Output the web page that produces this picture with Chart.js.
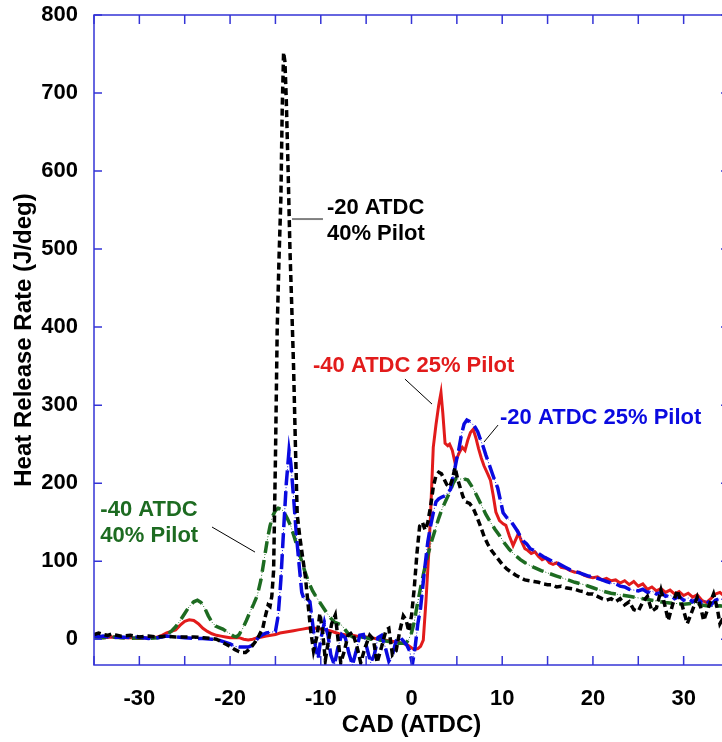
<!DOCTYPE html>
<html>
<head>
<meta charset="utf-8">
<script src="https://cdn.jsdelivr.net/npm/chart.js@4.4.1/dist/chart.umd.min.js"></script>
<style>
  html, body { margin: 0; padding: 0; background: #fff; overflow: hidden; }
  canvas { display: block; }
</style>
</head>
<body>
<canvas id="hrr" width="730" height="742" style="width:730px;height:742px"></canvas>
<script>
Chart.defaults.font.family = "'Liberation Sans', Arial, Helvetica, sans-serif";

// [CAD, heat release rate] pairs for each injection case
const hrrEarly25 = [ // -40 ATDC, 25% pilot
  [-35,3],[-34,2],[-33,3],[-32,2],[-31,2],[-30,1],[-29,2],[-28,3],[-27.5,5],[-27,8],[-26.5,10],[-26,12],
  [-25.5,18],[-25,23],[-24.5,25],[-24,24],[-23.5,20],[-23,14],[-22.5,10],[-22,7],[-21.5,5],[-21,4],[-20.5,3],
  [-20,2],[-19,2],[-18.5,0],[-18,-1],[-17.5,0],[-17,2],[-16.5,3],[-16,4],[-15.5,5],[-15,6],[-14.5,8],[-14,9],
  [-13.5,10],[-13,11],[-12.5,12],[-12,13],[-11.5,14],[-11,14],[-10.5,14],[-10,13],[-9.5,12],[-9,11],[-8.5,9],
  [-8,7],[-7.5,6],[-7,5],[-6.5,5],[-6,4],[-5.5,4],[-5,3],[-4.5,2],[-4,1],[-3.5,0],[-3,-1],[-2.5,-2],[-2,-3],
  [-1.5,-4],[-1,-5],[-0.5,-7],[0,-11],[0.3,-13],[0.7,-12],[1,-9],[1.3,-1],[1.6,50],[1.9,110],[2.1,160],
  [2.4,246],[2.7,275],[3.0,300],[3.25,316],[3.45,290],[3.7,251],[4.0,248],[4.2,250],[4.5,242],[4.8,226],
  [5.0,232],[5.3,240],[5.6,246],[5.9,242],[6.2,255],[6.5,265],[6.8,269],[7.1,258],[7.4,244],[7.7,232],
  [8.0,222],[8.4,212],[8.7,204],[9.0,185],[9.3,163],[9.7,152],[10.1,148],[10.4,146],[10.8,132],[11.2,120],
  [11.5,128],[11.8,136],[12.1,126],[12.5,116],[12.8,114],[13.2,110],[13.6,112],[14.0,106],[14.4,102],
  [14.8,104],[15.2,98],[15.6,96],[16.0,98],[16.5,92],[17.0,91],[17.5,88],[18.0,86],[18.5,86],[19.0,82],
  [19.5,80],[20.0,79],[20.5,80],[21.0,76],[21.5,78],[22.0,75],[22.5,76],[23.0,72],[23.5,75],[24.0,70],
  [24.5,74],[25.0,68],[25.5,71],[26.0,64],[26.5,67],[27.0,62],[27.5,65],[28.0,60],[28.5,63],[29.0,58],
  [29.5,61],[30.0,56],[30.5,59],[31.0,54],[31.5,57],[32.0,50],[32.5,47],[33.0,52],[33.5,58],[34.0,60],
  [34.5,55],[35,52]
];

const hrrLate25 = [ // -20 ATDC, 25% pilot
  [-35,5],[-34.5,3],[-34,4],[-33,2],[-32,3],[-31,2],[-30,3],[-29,1],[-28,2],[-27,4],[-26,3],[-25,2],
  [-24,1],[-23,1],[-22,0],[-21.5,0],[-21,-2],[-20.5,-4],[-20,-6],[-19.5,-9],[-19,-10],[-18.5,-10],[-18,-10],
  [-17.6,-8],[-17.2,-2],[-16.8,3],[-16.4,6],[-16,8],[-15.5,9],[-15,10],[-14.7,30],[-14.4,76],[-14.1,140],
  [-13.8,200],[-13.5,242],[-13.3,225],[-13,182],[-12.7,135],[-12.4,97],[-12.1,60],[-11.8,50],[-11.5,52],
  [-11.2,48],[-10.9,20],[-10.6,-8],[-10.3,-25],[-10.0,0],[-9.6,22],[-9.2,5],[-8.9,-20],[-8.5,-33],
  [-8.1,-10],[-7.7,6],[-7.3,2],[-6.9,-18],[-6.5,-33],[-6.1,-15],[-5.7,5],[-5.3,6],[-4.9,-12],[-4.5,-30],
  [-4.1,-20],[-3.7,2],[-3.3,5],[-2.9,-10],[-2.5,-28],[-2.1,-20],[-1.7,-2],[-1.3,3],[-0.9,-2],[-0.5,-8],
  [-0.2,-15],[0.1,-32],[0.4,-10],[0.7,20],[1,40],[1.4,85],[1.8,125],[2.1,145],[2.4,162],[2.7,176],[3.0,180],
  [3.3,182],[3.7,184],[4.0,188],[4.3,192],[4.6,210],[4.8,220],[5.0,232],[5.2,242],[5.5,262],[5.8,276],
  [6.1,281],[6.4,279],[6.7,276],[7.0,272],[7.3,266],[7.6,256],[7.9,247],[8.2,236],[8.5,226],[8.8,216],
  [9.1,206],[9.5,194],[9.8,178],[10.1,162],[10.5,156],[10.9,152],[11.2,147],[11.6,140],[12.0,132],
  [12.3,126],[12.7,122],[13.1,116],[13.5,114],[14.0,110],[14.5,106],[15.0,103],[15.5,100],[16.0,98],
  [16.5,95],[17.0,92],[17.5,89],[18.0,87],[18.5,85],[19.0,83],[19.5,81],[20.0,80],[20.5,78],[21.0,76],
  [21.5,74],[22.0,72],[22.5,71],[23.0,68],[23.5,67],[24.0,64],[24.5,63],[25.0,62],[25.5,64],[26.0,60],
  [26.5,62],[27.0,58],[27.5,60],[28.0,55],[28.5,57],[29.0,52],[29.5,55],[30.0,50],[30.5,53],[31.0,48],
  [31.5,52],[32.0,47],[32.5,50],[33.0,44],[33.5,50],[34.0,52],[34.5,50],[35,48]
];

const hrrLate40 = [ // -20 ATDC, 40% pilot
  [-35,6],[-34.5,8],[-34,6],[-33.5,5],[-33,7],[-32.5,5],[-32,4],[-31,5],[-30,3],[-29,4],[-28,3],[-27,4],
  [-26,3],[-25,3],[-24,3],[-23,2],[-22,1],[-21.5,0],[-21,-3],[-20.5,-6],[-20,-9],[-19.5,-13],[-19,-16],
  [-18.7,-17],[-18.3,-17],[-18,-14],[-17.6,-9],[-17.2,-3],[-16.8,5],[-16.4,14],[-16.1,30],[-15.8,44],
  [-15.6,42],[-15.4,55],[-15.2,88],[-15.0,230],[-14.8,400],[-14.6,490],[-14.4,565],[-14.25,680],[-14.1,752],
  [-13.95,740],[-13.8,690],[-13.6,600],[-13.4,500],[-13.2,426],[-13.0,349],[-12.8,250],[-12.6,160],
  [-12.3,130],[-12.0,105],[-11.7,80],[-11.4,45],[-11.1,10],[-10.8,-15],[-10.4,5],[-10.1,33],[-9.8,10],
  [-9.5,-27],[-9.2,-5],[-8.8,20],[-8.4,31],[-8.1,0],[-7.8,-30],[-7.4,-15],[-7.0,5],[-6.5,9],[-6.0,-10],
  [-5.6,-30],[-5.1,-10],[-4.6,5],[-4.2,0],[-3.8,-30],[-3.3,-10],[-2.8,12],[-2.5,14],[-2.1,-20],[-1.7,-15],
  [-1.3,10],[-0.9,30],[-0.6,25],[-0.3,10],[0.0,30],[0.3,65],[0.6,110],[0.9,145],[1.2,150],[1.5,140],
  [1.8,150],[2.1,170],[2.4,195],[2.7,210],[3.0,214],[3.3,212],[3.6,205],[3.9,198],[4.2,195],[4.5,205],
  [4.8,220],[5.1,205],[5.4,193],[5.7,182],[6.0,176],[6.4,174],[6.8,168],[7.2,157],[7.6,145],[8.0,132],
  [8.4,122],[8.8,114],[9.2,108],[9.6,102],[10.0,96],[10.5,90],[11.0,86],[11.5,82],[12.0,79],[12.5,76],
  [13.0,75],[13.5,74],[14.0,73],[14.5,71],[15.0,70],[15.5,70],[16.0,67],[16.5,68],[17.0,66],[17.5,65],
  [18.0,64],[18.5,62],[19.0,61],[19.5,58],[20.0,58],[20.5,55],[21.0,52],[21.5,50],[22.0,52],[22.5,48],
  [23.0,52],[23.5,44],[24.0,48],[24.5,38],[25.0,36],[25.5,48],[26.0,55],[26.5,36],[27.0,40],[27.5,63],
  [28.0,40],[28.3,24],[28.8,45],[29.3,63],[29.8,45],[30.4,20],[30.9,35],[31.5,54],[31.9,40],[32.2,24],
  [32.7,40],[33.3,58],[33.7,40],[34.0,20],[34.5,30],[35,45]
];

const hrrEarly40 = [ // -40 ATDC, 40% pilot
  [-35,3],[-34,2],[-33,3],[-32,2],[-31,1],[-30,2],[-29,1],[-28,2],[-27.5,3],[-27,6],[-26.5,10],[-26,16],
  [-25.5,24],[-25,33],[-24.5,42],[-24,48],[-23.6,50],[-23.2,47],[-22.8,40],[-22.4,30],[-22,22],[-21.6,17],
  [-21.2,15],[-20.8,13],[-20.4,10],[-20,7],[-19.6,4],[-19.3,3],[-19,6],[-18.6,14],[-18.2,24],[-17.8,35],
  [-17.4,45],[-17.0,56],[-16.6,76],[-16.2,105],[-15.9,127],[-15.6,145],[-15.3,158],[-15,165],[-14.7,168],
  [-14.4,167],[-14.1,164],[-13.7,155],[-13.3,145],[-12.9,130],[-12.5,115],[-12.1,100],[-11.7,85],[-11.3,72],
  [-10.9,62],[-10.5,54],[-10.1,47],[-9.7,40],[-9.3,33],[-8.9,27],[-8.5,22],[-8.1,20],[-7.7,18],[-7.3,12],
  [-6.9,6],[-6.5,3],[-6,2],[-5.5,3],[-5,2],[-4.5,0],[-4,1],[-3.5,-1],[-3,-2],[-2.5,-3],[-2,-4],[-1.5,-5],
  [-1,-5],[-0.6,-5],[-0.3,0],[0,8],[0.3,22],[0.6,42],[1.0,66],[1.4,88],[1.8,108],[2.2,125],[2.6,140],
  [3.0,155],[3.4,168],[3.8,178],[4.2,188],[4.6,200],[4.9,206],[5.3,205],[5.7,206],[6.2,204],[6.7,195],
  [7.2,184],[7.7,172],[8.2,160],[8.7,150],[9.2,141],[9.7,133],[10.2,124],[10.8,115],[11.4,108],[12.0,102],
  [12.8,96],[13.5,92],[14.3,88],[15.0,85],[16.0,81],[17.0,77],[18.0,73],[19.0,70],[20.0,66],[21.0,62],
  [22.0,59],[23.0,57],[24.0,55],[25.0,53],[26.0,51],[27.0,49],[28.0,47],[29.0,46],[30.0,45],[31.0,46],
  [32.0,44],[33.0,42],[34.0,43],[35,41]
];

const xTicksStep = 5;
const yTicksStep = 100;

const AXIS_BLUE = '#3434d6';
const RED = '#e21b1b';
const BLUE = '#0a0ae0';
const GREEN = '#1d6b21';

// case labels: anchor in data units, lines stacked downward
const notes = [
  { lines: ['-20 ATDC', '40% Pilot'], color: '#000', x: -9.32, y: 545,
    lead: [[-13.17, 538.5], [-9.76, 538.5]], leadColor: '#808080', leadWidth: 2 },
  { lines: ['-40 ATDC 25% Pilot'], color: RED, x: -10.86, y: 342.4,
    lead: [[-0.72, 333.4], [2.26, 301.4]], leadColor: '#000', leadWidth: 1 },
  { lines: ['-20 ATDC 25% Pilot'], color: BLUE, x: 9.76, y: 275.8,
    lead: [[9.54, 274.5], [7.99, 252.7]], leadColor: '#000', leadWidth: 1 },
  { lines: ['-40 ATDC', '40% Pilot'], color: GREEN, x: -34.3, y: 157.9,
    lead: [[-21.99, 143.8], [-17.25, 111.7]], leadColor: '#000', leadWidth: 1 }
];

const toPoints = arr => arr.map(([x, y]) => ({ x, y }));

const notesPlugin = {
  id: 'notes',
  afterDatasetsDraw(chart) {
    const { ctx, scales: { x, y } } = chart;
    ctx.save();
    notes.forEach(n => {
      ctx.beginPath();
      ctx.strokeStyle = n.leadColor;
      ctx.lineWidth = n.leadWidth;
      ctx.moveTo(x.getPixelForValue(n.lead[0][0]), y.getPixelForValue(n.lead[0][1]));
      ctx.lineTo(x.getPixelForValue(n.lead[1][0]), y.getPixelForValue(n.lead[1][1]));
      ctx.stroke();

      ctx.fillStyle = n.color;
      ctx.font = "bold 22px 'Liberation Sans', Arial, sans-serif";
      ctx.textAlign = 'left';
      ctx.textBaseline = 'alphabetic';
      const px = x.getPixelForValue(n.x);
      const py = y.getPixelForValue(n.y);
      n.lines.forEach((t, i) => ctx.fillText(t, px, py + i * 26));
    });
    ctx.restore();
  }
};

// box around the plot with inward tick marks on all four sides
const framePlugin = {
  id: 'frame',
  afterDraw(chart) {
    const { ctx, chartArea: a, scales: { x, y } } = chart;
    ctx.save();
    ctx.strokeStyle = AXIS_BLUE;
    ctx.lineWidth = 1.5;
    ctx.strokeRect(a.left, a.top, a.right - a.left, a.bottom - a.top);
    ctx.beginPath();
    x.ticks.forEach(t => {
      const px = x.getPixelForValue(t.value);
      ctx.moveTo(px, a.top); ctx.lineTo(px, a.top + 9);
      ctx.moveTo(px, a.bottom); ctx.lineTo(px, a.bottom - 9);
    });
    y.ticks.forEach(t => {
      const py = y.getPixelForValue(t.value);
      ctx.moveTo(a.left, py); ctx.lineTo(a.left + 8, py);
      ctx.moveTo(a.right, py); ctx.lineTo(a.right - 8, py);
    });
    ctx.stroke();
    ctx.restore();
  }
};

const tickFont = { size: 22, weight: 'bold' };
const titleFont = { size: 24, weight: 'bold' };

new Chart(document.getElementById('hrr'), {
  type: 'line',
  data: {
    datasets: [
      { label: '-20 ATDC 40% Pilot', data: toPoints(hrrLate40), borderColor: '#000',
        borderWidth: 3.5, borderDash: [7, 4] },
      { label: '-20 ATDC 25% Pilot', data: toPoints(hrrLate25), borderColor: BLUE,
        borderWidth: 3.5, borderDash: [15, 6] },
      { label: '', data: toPoints(hrrLate25), borderColor: BLUE, borderWidth: 1, borderDash: [1, 2] },
      { label: '-40 ATDC 40% Pilot', data: toPoints(hrrEarly40), borderColor: GREEN,
        borderWidth: 3.5, borderDash: [12, 7] },
      { label: '', data: toPoints(hrrEarly40), borderColor: GREEN, borderWidth: 1, borderDash: [1, 2] },
      { label: '-40 ATDC 25% Pilot', data: toPoints(hrrEarly25), borderColor: RED, borderWidth: 3 }
    ]
  },
  options: {
    responsive: false,
    animation: false,
    events: [],
    layout: { padding: { top: 15, right: 1, left: 0, bottom: 0 } },
    elements: {
      point: { radius: 0 },
      line: { tension: 0, fill: false, borderCapStyle: 'butt' }
    },
    plugins: { legend: { display: false }, tooltip: { enabled: false } },
    scales: {
      x: {
        type: 'linear', min: -35, max: 35,
        grid: { display: false, drawTicks: false },
        border: { display: false },
        ticks: {
          stepSize: xTicksStep, autoSkip: false, maxRotation: 0, padding: 21,
          color: '#000', font: tickFont,
          callback: v => (v % 10 === 0 ? String(v) : '')
        },
        title: { display: true, text: 'CAD (ATDC)', color: '#000', font: titleFont,
          padding: { top: 0, bottom: 2 } },
        afterFit: s => { s.height = 77; s.paddingLeft = 0; s.paddingRight = 0; }
      },
      y: {
        type: 'linear', min: -33, max: 800,
        grid: { display: false, drawTicks: false },
        border: { display: false },
        ticks: { stepSize: yTicksStep, includeBounds: false, padding: 16, color: '#000', font: tickFont },
        title: { display: true, text: 'Heat Release Rate (J/deg)', color: '#000', font: titleFont,
          padding: { top: 10, bottom: 0 } },
        afterFit: s => { s.width = 94; s.paddingTop = 0; s.paddingBottom = 0; }
      }
    }
  },
  plugins: [notesPlugin, framePlugin]
});
</script>
</body>
</html>
